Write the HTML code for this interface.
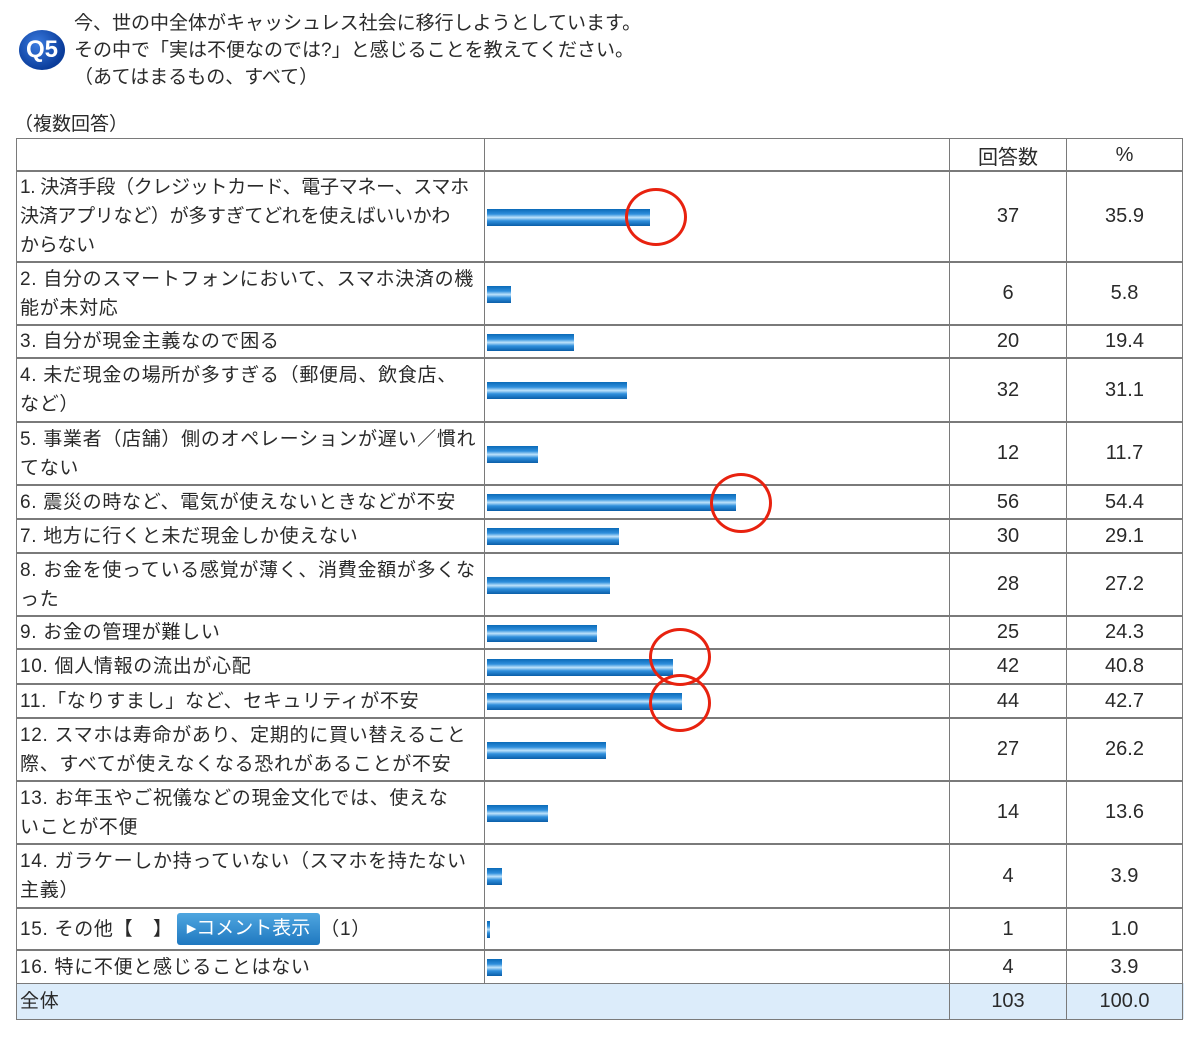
<!DOCTYPE html>
<html><head><meta charset="utf-8"><style>
body{margin:0;width:1200px;height:1040px;background:#fff;position:relative;overflow:hidden;font-family:"Liberation Sans","Noto Sans CJK JP",sans-serif;color:#2a2a2a}
.r{position:absolute;left:16px;width:1168px;display:flex;box-sizing:border-box}
.c{box-sizing:border-box;border:1px solid #7a7a7a;margin-right:-1px;margin-bottom:-1px;position:relative}
.l{width:469px;font-size:19px;line-height:29px;padding-left:3px;display:flex;align-items:center;white-space:nowrap;letter-spacing:0.7px;overflow:hidden}
.b{width:466px}
.n,.p{width:118px;font-size:20px;display:flex;align-items:center;justify-content:center}
.p{width:117px;margin-right:0}
.bar{position:absolute;left:2px;top:50%;height:17px;margin-top:-8px;background:linear-gradient(#0a6ab8,#2f8fdc 30%,#bfe3fb 50%,#2f8fdc 70%,#0a5ea8)}
.t{position:absolute;font-size:19px;white-space:nowrap}
.circ{position:absolute;width:56px;height:56px;border:3.5px solid #e8220f;border-radius:50%;box-sizing:border-box}
</style></head><body>
<div style="position:absolute;left:19px;top:30px;width:46px;height:40px;border-radius:50%;background:radial-gradient(circle at 40% 35%,#3a7be0,#0a3c9a 70%);color:#fff;font-weight:bold;font-size:24px;text-align:center;line-height:40px">Q5</div>
<div class="t" style="left:74px;top:10px;line-height:27px">今、世の中全体がキャッシュレス社会に移行しようとしています。<br>その中で「実は不便なのでは?」と感じることを教えてください。<br>（あてはまるもの、すべて）</div>
<div class="t" style="left:14px;top:109px">（複数回答）</div>

<div class="r" style="top:138px;height:33px"><div class="c l"></div><div class="c b"></div><div class="c n">回答数</div><div class="c p">%</div></div>
<div class="r" style="top:170px;height:92px"><div class="c l"><span style="letter-spacing:-0.3px">1. 決済手段（クレジットカード、電子マネー、スマホ<br>決済アプリなど）が多すぎてどれを使えばいいかわ<br>からない</span></div><div class="c b"><div class="bar" style="width:163px"></div></div><div class="c n">37</div><div class="c p">35.9</div></div>
<div class="r" style="top:261px;height:64px"><div class="c l">2. 自分のスマートフォンにおいて、スマホ決済の機<br>能が未対応</div><div class="c b"><div class="bar" style="width:24px"></div></div><div class="c n">6</div><div class="c p">5.8</div></div>
<div class="r" style="top:324px;height:34px"><div class="c l">3. 自分が現金主義なので困る</div><div class="c b"><div class="bar" style="width:87px"></div></div><div class="c n">20</div><div class="c p">19.4</div></div>
<div class="r" style="top:357px;height:65px"><div class="c l">4. 未だ現金の場所が多すぎる（郵便局、飲食店、<br>など）</div><div class="c b"><div class="bar" style="width:140px"></div></div><div class="c n">32</div><div class="c p">31.1</div></div>
<div class="r" style="top:421px;height:64px"><div class="c l">5. 事業者（店舗）側のオペレーションが遅い／慣れ<br>てない</div><div class="c b"><div class="bar" style="width:51px"></div></div><div class="c n">12</div><div class="c p">11.7</div></div>
<div class="r" style="top:484px;height:35px"><div class="c l">6. 震災の時など、電気が使えないときなどが不安</div><div class="c b"><div class="bar" style="width:249px"></div></div><div class="c n">56</div><div class="c p">54.4</div></div>
<div class="r" style="top:518px;height:35px"><div class="c l">7. 地方に行くと未だ現金しか使えない</div><div class="c b"><div class="bar" style="width:132px"></div></div><div class="c n">30</div><div class="c p">29.1</div></div>
<div class="r" style="top:552px;height:64px"><div class="c l">8. お金を使っている感覚が薄く、消費金額が多くな<br>った</div><div class="c b"><div class="bar" style="width:123px"></div></div><div class="c n">28</div><div class="c p">27.2</div></div>
<div class="r" style="top:615px;height:34px"><div class="c l">9. お金の管理が難しい</div><div class="c b"><div class="bar" style="width:110px"></div></div><div class="c n">25</div><div class="c p">24.3</div></div>
<div class="r" style="top:648px;height:36px"><div class="c l">10. 個人情報の流出が心配</div><div class="c b"><div class="bar" style="width:186px"></div></div><div class="c n">42</div><div class="c p">40.8</div></div>
<div class="r" style="top:683px;height:35px"><div class="c l">11.「なりすまし」など、セキュリティが不安</div><div class="c b"><div class="bar" style="width:195px"></div></div><div class="c n">44</div><div class="c p">42.7</div></div>
<div class="r" style="top:717px;height:64px"><div class="c l">12. スマホは寿命があり、定期的に買い替えること<br>際、すべてが使えなくなる恐れがあることが不安</div><div class="c b"><div class="bar" style="width:119px"></div></div><div class="c n">27</div><div class="c p">26.2</div></div>
<div class="r" style="top:780px;height:64px"><div class="c l">13. お年玉やご祝儀などの現金文化では、使えな<br>いことが不便</div><div class="c b"><div class="bar" style="width:61px"></div></div><div class="c n">14</div><div class="c p">13.6</div></div>
<div class="r" style="top:843px;height:65px"><div class="c l">14. ガラケーしか持っていない（スマホを持たない<br>主義）</div><div class="c b"><div class="bar" style="width:15px"></div></div><div class="c n">4</div><div class="c p">3.9</div></div>
<div class="r" style="top:907px;height:43px"><div class="c l">15. その他【　】<span style="display:inline-block;margin-left:4px;background:linear-gradient(#4fa6e0,#1f78c0);color:#fff;border-radius:3px;padding:0 10px;line-height:32px;font-size:19px;letter-spacing:0">▸コメント表示</span>（1）</div><div class="c b"><div class="bar" style="width:3px"></div></div><div class="c n">1</div><div class="c p">1.0</div></div>
<div class="r" style="top:949px;height:35px"><div class="c l">16. 特に不便と感じることはない</div><div class="c b"><div class="bar" style="width:15px"></div></div><div class="c n">4</div><div class="c p">3.9</div></div>
<div class="r" style="top:983px;height:36px;background:#dcecfa"><div class="c l" style="width:934px">全体</div><div class="c n">103</div><div class="c p">100.0</div></div>

<div class="circ" style="left:625px;top:188px;width:62px;height:58px"></div>
<div class="circ" style="left:710px;top:473px;width:62px;height:60px"></div>
<div class="circ" style="left:649px;top:628px;width:62px;height:58px"></div>
<div class="circ" style="left:649px;top:674px;width:62px;height:58px"></div>
</body></html>
